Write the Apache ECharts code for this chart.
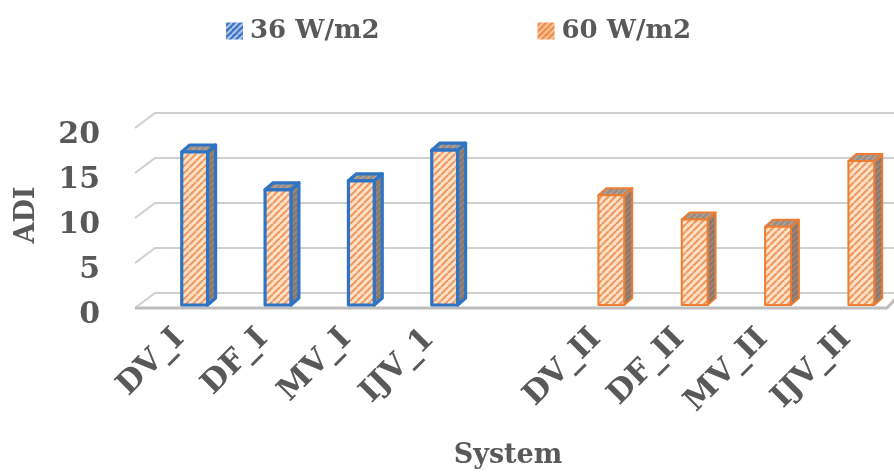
<!DOCTYPE html>
<html>
<head>
<meta charset="utf-8">
<script src="https://cdn.jsdelivr.net/npm/echarts@6/dist/echarts.min.js"></script>
<style>
  html, body { margin: 0; padding: 0; background: #fff; }
  #chart { width: 894px; height: 473px; }
</style>
</head>
<body>
<div id="chart"></div>
<script>
// Systems along the x axis (blank slot separates the two heat-flux groups)
const categories = ['DV_I', 'DF_I', 'MV_I', 'IJV_1', '', 'DV_II', 'DF_II', 'MV_II', 'IJV_II'];
// ADI per system at each heat flux
const adi36 = [17.0, 12.8, 13.8, 17.2, null, null, null, null, null];
const adi60 = [null, null, null, null, null, 12.2, 9.5, 8.7, 16.0];
const yTicks = [0, 5, 10, 15, 20];
const seriesNames = ['36 W/m2', '60 W/m2'];

const FONT = '"DejaVu Serif", "Liberation Serif", serif';
const TEXT = '#595959';

// Hatched fills built on small canvases
function hatch(bg, fg, size, lw) {
  const c = document.createElement('canvas');
  c.width = size; c.height = size;
  const g = c.getContext('2d');
  g.fillStyle = bg; g.fillRect(0, 0, size, size);
  g.strokeStyle = fg; g.lineWidth = lw;
  g.beginPath();
  for (let k = -1; k <= 1; k++) {
    g.moveTo(k * size, size);
    g.lineTo(k * size + size, 0);
  }
  g.stroke();
  return { image: c, repeat: 'repeat' };
}
const frontFill = hatch('#fde2cb', '#f19a60', 7, 2.2);
const sideFill = hatch('#8a786d', '#9d8a7e', 6, 1.5);
const topFill = hatch('#9c8d84', '#b3a59b', 6, 1.5);
const legendBlue = hatch('#3f74c4', '#c9d9f1', 6, 1.6);
const legendOrange = hatch('#ef8a48', '#fbd3b5', 6, 1.6);

const outline = ['#2f74c3', '#ed7d31'];
const outlineWidth = [3.2, 2];

function makeBarRenderer(idx) {
  return function (params, api) {
    const v = api.value(1);
    if (v == null || isNaN(v)) return;
    const base = api.coord([api.value(0), 0]);
    const top = api.coord([api.value(0), v]);
    const w = api.size([1, 0])[0] * 0.31;
    const x0 = base[0] - w / 2, x1 = base[0] + w / 2;
    const yb = base[1], yt = top[1];
    const dx = 8, dy = -7;
    const stroke = outline[idx], lw = outlineWidth[idx];
    return {
      type: 'group',
      children: [
        { type: 'polygon', shape: { points: [[x1, yt], [x1 + dx, yt + dy], [x1 + dx, yb + dy], [x1, yb]] },
          style: { fill: sideFill, stroke: stroke, lineWidth: lw, lineJoin: 'round' } },
        { type: 'polygon', shape: { points: [[x0, yt], [x0 + dx, yt + dy], [x1 + dx, yt + dy], [x1, yt]] },
          style: { fill: topFill, stroke: stroke, lineWidth: lw, lineJoin: 'round' } },
        { type: 'rect', shape: { x: x0, y: yt, width: w, height: yb - yt },
          style: { fill: frontFill, stroke: stroke, lineWidth: lw, lineJoin: 'round' } }
      ]
    };
  };
}

// Back wall gridlines with the receding left edge, plus the floor slab
function renderWall(params, api) {
  const cs = params.coordSys;
  const v = api.value(1);
  const y = api.coord([0, v])[1];
  const backDx = 2, backDy = -12;
  const frontX = cs.x - 18, frontDy = 3;
  const children = [
    { type: 'polyline',
      shape: { points: [[frontX, y + frontDy], [cs.x + backDx, y + backDy], [cs.x + cs.width, y + backDy]] },
      style: { stroke: '#cfcfcf', lineWidth: 2, fill: null } }
  ];
  if (v === 0) {
    children.push({ type: 'polyline',
      shape: { points: [[frontX, y + frontDy], [887, y + frontDy], [900, y + backDy + 1]] },
      style: { stroke: '#bdbdbd', lineWidth: 3, fill: null, lineJoin: 'round' } });
  }
  return { type: 'group', children: children };
}

const chart = echarts.init(document.getElementById('chart'), null, { renderer: 'canvas' });
chart.setOption({
  animation: false,
  backgroundColor: '#ffffff',
  legend: {
    left: 221, top: 13,
    itemWidth: 17, itemHeight: 17, itemGap: 158,
    icon: 'rect',
    textStyle: { fontFamily: FONT, fontWeight: 'bold', fontSize: 26, color: TEXT, padding: [0, 0, 0, 2] },
    data: [
      { name: seriesNames[0], itemStyle: { color: legendBlue, borderWidth: 0 } },
      { name: seriesNames[1], itemStyle: { color: legendOrange, borderWidth: 0 } }
    ]
  },
  grid: [
    // plot plane holding the bars
    { left: 153, top: 125, width: 750, height: 180, containLabel: false, outerBoundsMode: 'none' },
    // front edge of the floor, where the category labels hang
    { left: 138, top: 128, width: 750, height: 180, containLabel: false, outerBoundsMode: 'none' }
  ],
  xAxis: [
    {
      type: 'category', gridIndex: 0,
      data: categories,
      boundaryGap: true,
      axisLine: { show: false },
      axisTick: { show: false },
      axisLabel: { show: false }
    },
    {
      type: 'category', gridIndex: 1,
      data: categories,
      boundaryGap: true,
      axisLine: { show: false },
      axisTick: { show: false },
      axisLabel: { rotate: 45, margin: 26, interval: 0, fontFamily: FONT, fontWeight: 'bold', fontSize: 31, color: TEXT },
      name: 'System',
      nameLocation: 'middle',
      nameGap: 134,
      nameTextStyle: { fontFamily: FONT, fontWeight: 'bold', fontSize: 27, color: TEXT, padding: [0, 10, 0, 0] }
    }
  ],
  yAxis: [
    {
      type: 'value', gridIndex: 0,
      min: 0, max: 20, interval: 5,
      axisLine: { show: false },
      axisTick: { show: false },
      splitLine: { show: false },
      axisLabel: { margin: 53, fontFamily: FONT, fontWeight: 'bold', fontSize: 30, color: TEXT,
        verticalAlign: 'top', lineHeight: 20 },
      name: 'ADI',
      nameLocation: 'middle',
      nameRotate: 90,
      nameGap: 113,
      nameTextStyle: { fontFamily: FONT, fontWeight: 'bold', fontSize: 27, color: TEXT }
    },
    {
      type: 'value', gridIndex: 1, show: false,
      min: 0, max: 20, interval: 5
    }
  ],
  series: [
    { type: 'custom', name: 'wall', z: 1, silent: true, renderItem: renderWall,
      xAxisIndex: 0, yAxisIndex: 0,
      data: yTicks.map(t => [0, t]), encode: { x: 0, y: 1 } },
    { type: 'custom', name: seriesNames[0], z: 3, renderItem: makeBarRenderer(0),
      xAxisIndex: 0, yAxisIndex: 0,
      itemStyle: { color: legendBlue },
      data: adi36.map((v, i) => [i, v]), encode: { x: 0, y: 1 } },
    { type: 'custom', name: seriesNames[1], z: 3, renderItem: makeBarRenderer(1),
      xAxisIndex: 0, yAxisIndex: 0,
      itemStyle: { color: legendOrange },
      data: adi60.map((v, i) => [i, v]), encode: { x: 0, y: 1 } }
  ]
});
</script>
</body>
</html>
